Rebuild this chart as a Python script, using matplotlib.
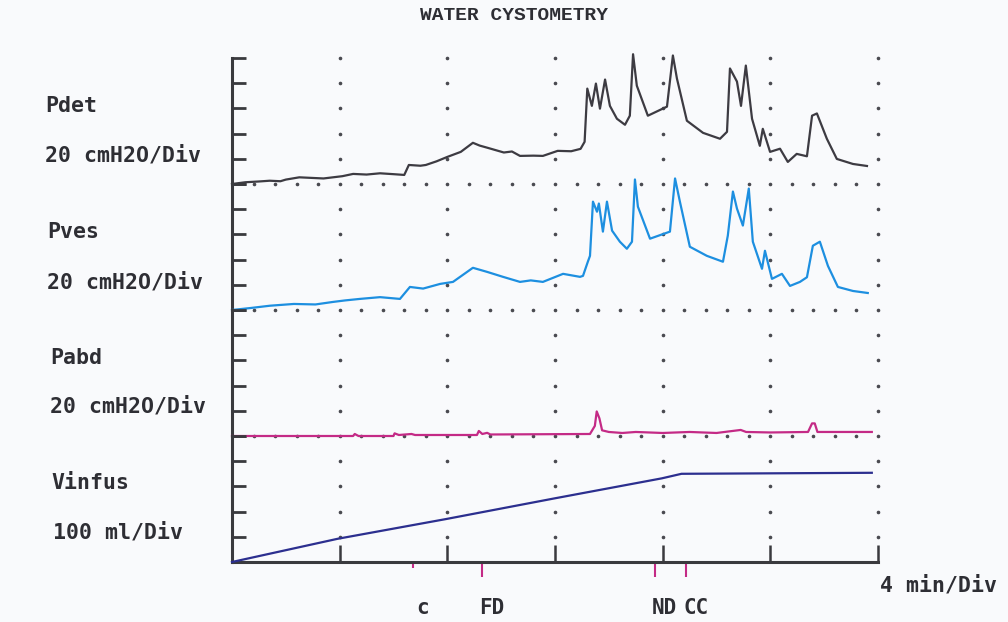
import numpy as np
import matplotlib.pyplot as plt

# minutes / cmH2O
pdet_t = [0.0, 0.5, 1.0, 1.4, 1.8, 2.0, 2.5, 3.0, 3.4, 3.75, 4.1, 4.5, 5.0, 5.5, 6.0, 6.4,
          6.57, 7.0, 7.2, 7.6, 8.0, 8.5, 8.95, 9.2, 9.5, 10.1, 10.4, 10.7, 11.2, 11.55, 12.1,
          12.6, 12.95, 13.1, 13.2, 13.37, 13.52, 13.67, 13.86, 14.04, 14.3, 14.6, 14.78, 14.9,
          15.04, 15.45, 16.16, 16.38, 16.53, 16.9, 17.5, 18.13, 18.39, 18.5, 18.76, 18.91,
          19.09, 19.32, 19.61, 19.72, 19.99, 20.36, 20.65, 20.98, 21.36, 21.55, 21.73, 22.1,
          22.47, 23.07, 23.59]
pdet_p = [0, 1.4, 2.0, 2.6, 2.2, 3.5, 5.3, 4.8, 4.4, 5.3, 6.2, 8.0, 7.5, 8.5, 7.8, 7.2,
          15.1, 14.5, 15.1, 18, 21.5, 25.5, 32.7, 30.5, 28.7, 25.0, 25.8, 22.3, 22.5, 22.3, 26.3,
          26, 27.9, 33.5, 75.7, 62, 79.7, 59.8, 82.9, 62, 51.8, 47, 54.2, 103,
          78, 54.2, 61.4, 102, 83.7, 50.2, 40.6, 35.9, 41.4, 91.7, 81.3, 62,
          94, 51.8, 30.3, 43.8, 25.5, 28, 17.5, 23.9, 22, 54.2, 56, 35.9,
          19.9, 15.9, 14.3]

pves_t = [0.0, 0.7, 1.41, 2.3, 3.1, 3.75, 4.2, 4.75, 5.5, 6.24, 6.61, 7.1, 7.73, 8.21, 8.95,
          9.47, 10.07, 10.7, 11.1, 11.55, 12.3, 12.93, 13.04, 13.22, 13.3, 13.41, 13.56, 13.63,
          13.78, 13.93, 14.12, 14.41, 14.67, 14.86, 14.97, 15.08, 15.53, 16.27, 16.46, 16.64,
          17.01, 17.64, 18.24, 18.42, 18.61, 18.76, 18.98, 19.2, 19.35, 19.69, 19.8, 20.06,
          20.43, 20.73, 21.1, 21.36, 21.58, 21.84, 22.14, 22.51, 23.07, 23.62]
pves_p = [0, 1.6, 3.4, 4.8, 4.4, 6.4, 7.6, 8.8, 10.2, 8.8, 18.3, 17.0, 20.7, 22.3, 33.5,
          30.3, 26.3, 22.3, 23.5, 22.3, 28.7, 26.3, 27.1, 38.3, 43, 86, 78, 84.5,
          62.2, 86, 63, 54.2, 48.6, 54.2, 103.6, 82, 56.6, 62.2, 104.4, 86,
          50.2, 43, 38.3, 59, 94, 80.5, 67, 96.4, 54.2, 32.7, 47, 24.7,
          28.7, 19.1, 22.3, 26, 51, 54.2, 35, 18.3, 15.1, 13.5]

pabd_t = [0, 4.5, 4.56, 4.7, 6.0, 6.04, 6.2, 6.67, 6.8, 9.1, 9.17, 9.3, 9.48, 9.6, 13.3,
          13.48, 13.55, 13.65, 13.75, 14.0, 14.5, 15.0, 16.0, 17.0, 18.0, 18.9, 19.1, 20.0,
          21.4, 21.55, 21.65, 21.75, 23.0, 23.77]
pabd_p = [0, 0, 1.6, 0, 0, 2.1, 0.8, 1.6, 0.8, 0.8, 4, 1.6, 2.5, 1.2, 1.6,
          8, 19.5, 14, 4.5, 3.2, 2.4, 3.2, 2.4, 3.2, 2.4, 4.8, 3.2, 2.8,
          3.2, 10, 10, 3.2, 3.2, 3.2]

vinf_t = [0, 3.92, 7.93, 11.96, 15.97, 16.7, 23.77]
vinf_v = [0, 92, 170, 252, 332, 350, 354]

events = ['c', 'FD', 'ND', 'CC']
event_t = [6.72, 9.3, 15.71, 16.88]
event_len = [6, 15, 15, 15]   # px below the time axis

names = ['Pdet', 'Pves', 'Pabd', 'Vinfus']
scales = ['20 cmH2O/Div', '20 cmH2O/Div', '20 cmH2O/Div', '100 ml/Div']
colors = ['#3d3b42', '#1d8fe0', '#c42a86', '#2c2f8f']

bg = '#f9fafc'
axc = '#3a3a3e'
txt = '#2e2e34'
mono = ['DejaVu Sans Mono']

fig = plt.figure(figsize=(10.08, 6.22), dpi=100, facecolor=bg)
axes = fig.subplots(4, 1, sharex=True, gridspec_kw=dict(hspace=0))
fig.subplots_adjust(left=232/1008, right=878/1008, top=1-58/622, bottom=1-562/622)

series = [(pdet_t, pdet_p), (pves_t, pves_p), (pabd_t, pabd_p), (vinf_t, vinf_v)]
cols = [4, 8, 12, 16, 20, 24]
base_dots = [0.8 * k for k in range(1, 31)]

for i, ax in enumerate(axes):
    top = 500 if i == 3 else 100
    step = top / 5
    ax.set_facecolor('none')
    ax.set_xlim(0, 24)
    ax.set_ylim(0, top)
    for s in ['top', 'right']:
        ax.spines[s].set_visible(False)
    ax.spines['left'].set_color(axc)
    ax.spines['left'].set_linewidth(2.2)
    ax.set_yticks([step * k for k in range(6)])
    ax.set_yticklabels([])
    ax.tick_params(axis='y', direction='in', length=10, width=2, color=axc)

    # dotted grid
    rows = [step * k for k in range(1, 6 if i == 0 else 5)]
    gx = [c for c in cols for r in rows]
    gy = [r for c in cols for r in rows]
    ax.plot(gx, gy, ls='none', marker='o', ms=1.6, color='#4a4a50', clip_on=False, zorder=1)
    if i < 3:
        ax.spines['bottom'].set_visible(False)
        ax.tick_params(axis='x', length=0)
        ax.plot(base_dots, [0] * len(base_dots), ls='none', marker='o', ms=1.6,
                color='#4a4a50', clip_on=False, zorder=1)
    else:
        ax.spines['bottom'].set_color(axc)
        ax.spines['bottom'].set_linewidth(2.2)
        ax.set_xticks(cols)
        ax.set_xticklabels([])
        ax.tick_params(axis='x', direction='in', length=12, width=1.8, color=axc)

    t, v = series[i]
    ax.plot(t, v, color=colors[i], lw=1.6, clip_on=False, zorder=3)

# channel labels
label_y = [106, 156, 232, 282, 358, 406, 483, 532]
label_x = [45, 45, 47, 47, 50, 50, 51, 53]
for k in range(4):
    fig.text(label_x[2*k]/1008, 1 - label_y[2*k]/622, names[k], family=mono,
             weight='bold', size=15.5, color=txt, va='center')
    fig.text(label_x[2*k+1]/1008, 1 - label_y[2*k+1]/622, scales[k], family=mono,
             weight='bold', size=15.5, color=txt, va='center')

# event markers under the time axis
ax = axes[3]
trans = ax.get_xaxis_transform()
for name, t, ln in zip(events, event_t, event_len):
    ax.vlines(t, -ln / 125.5, 0, color='#c42a86', lw=1.5, transform=trans, clip_on=False)
    ax.annotate(name, (t, -46 / 125.5), xycoords=trans, xytext=(7, 0),
                textcoords='offset points', ha='center', va='center', family=mono,
                weight='bold', size=15, color=txt)

ax.text(1.003, -23 / 125.5, '4 min/Div', transform=ax.transAxes, family=mono,
        weight='bold', size=15.5, color=txt, va='center', ha='left')

fig.text(514/1008, 1 - 16/622, 'WATER CYSTOMETRY', family=['Liberation Mono'],
         weight='bold', size=14, color=txt, ha='center', va='center')

fig.savefig('out.png', dpi=100, facecolor=bg)
